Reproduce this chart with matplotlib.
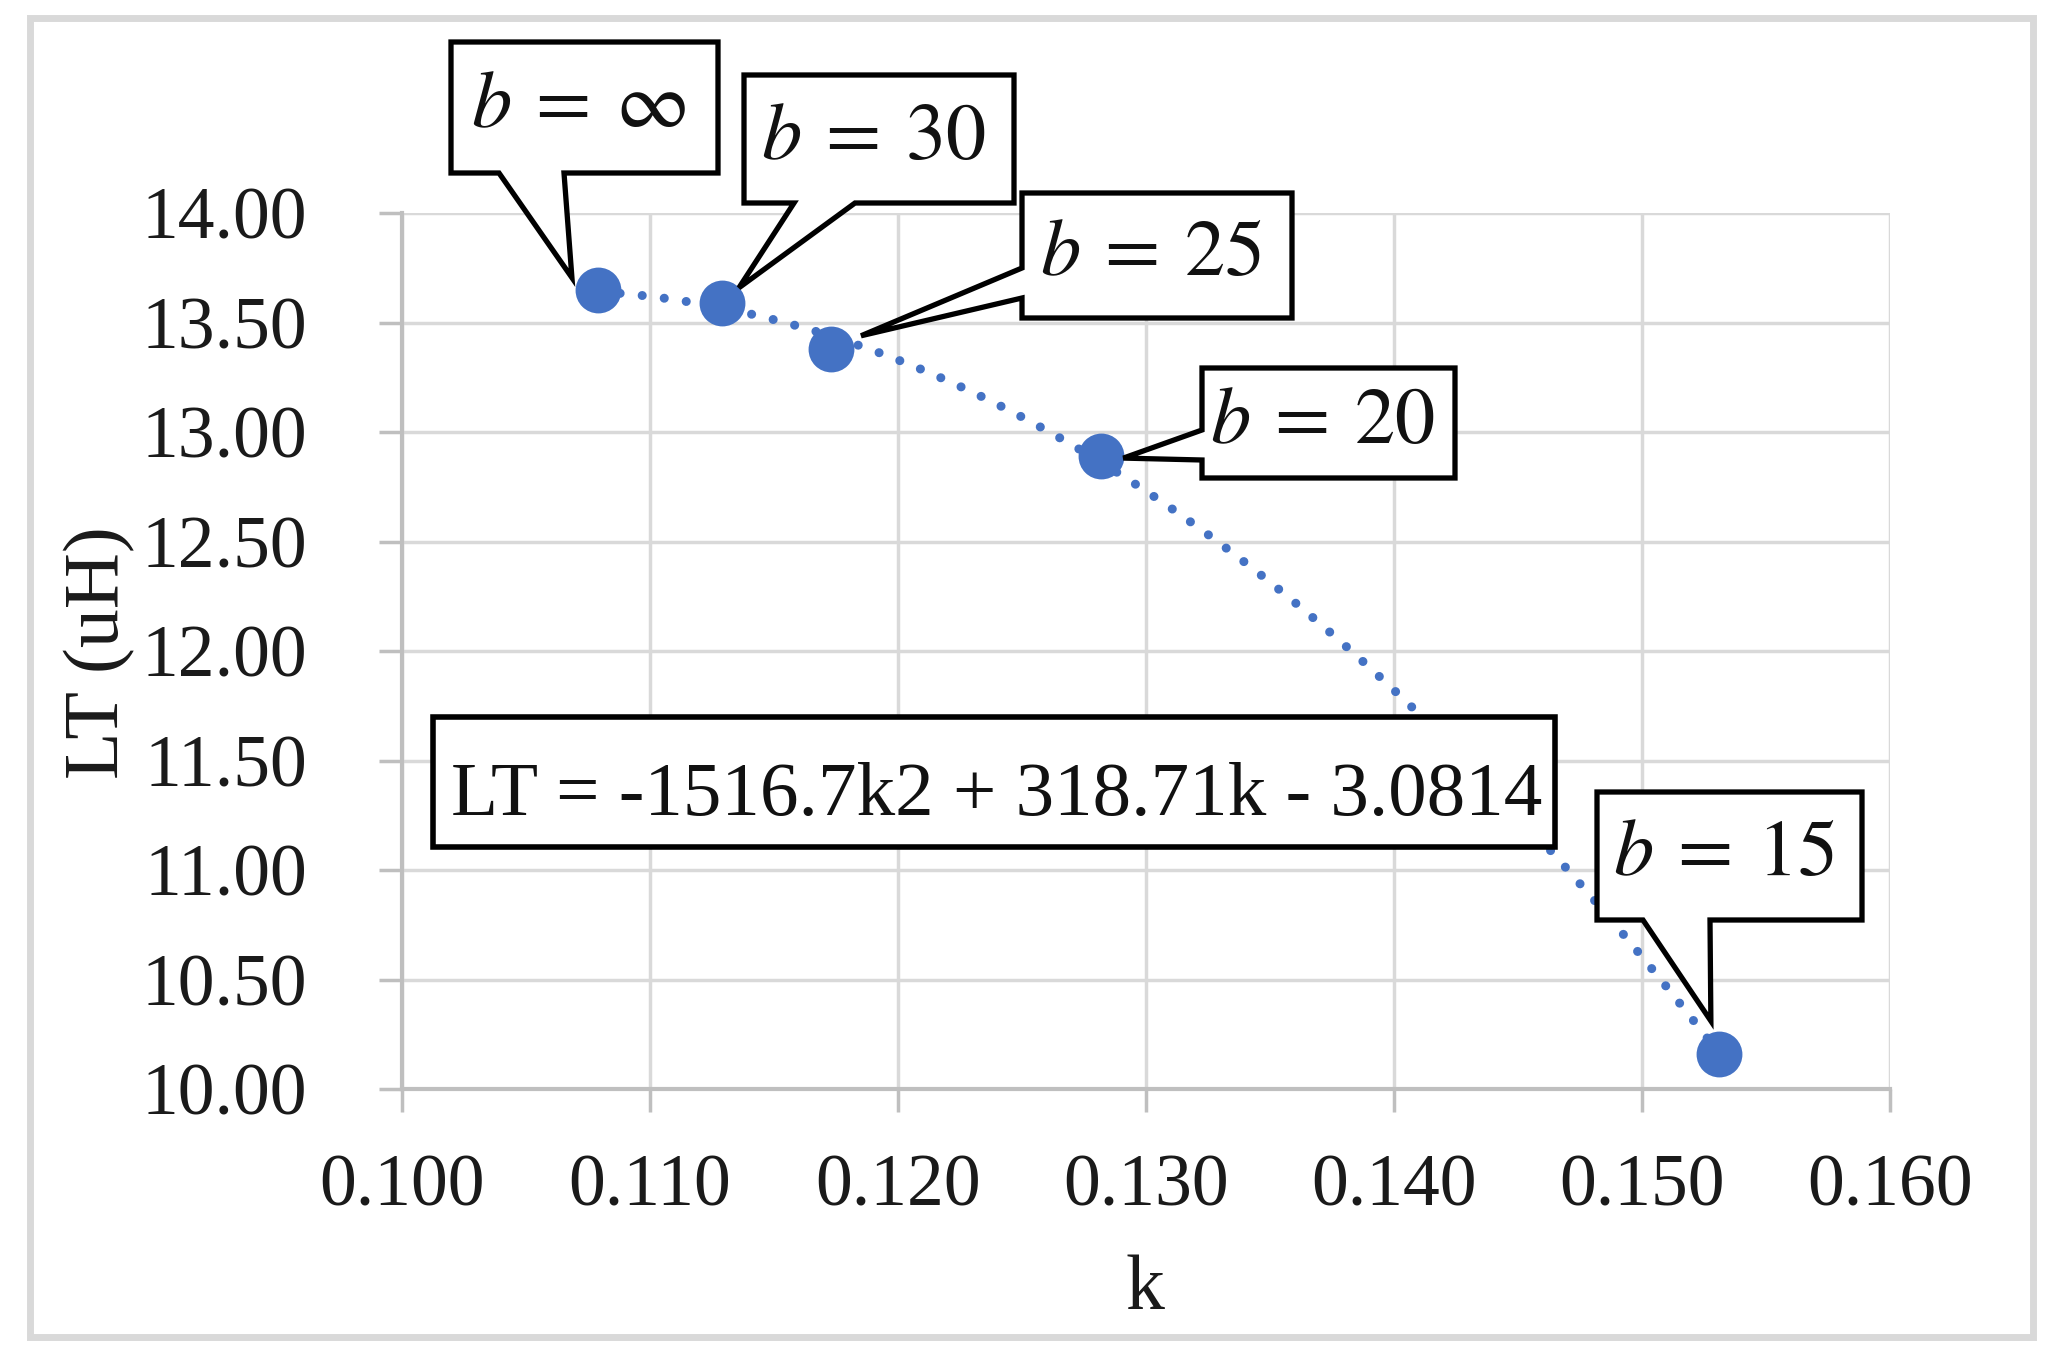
import numpy as np
import matplotlib
matplotlib.use("Agg")
import matplotlib.pyplot as plt
from matplotlib.patches import Polygon, Rectangle

# ---------------- data ----------------
b_labels = [r"$b\:=\:\infty$", r"$b\:=\:30$", r"$b\:=\:25$", r"$b\:=\:20$", r"$b\:=\:15$"]
k_values = [0.1079, 0.1129, 0.1173, 0.1282, 0.1531]
lt_values = [13.65, 13.59, 13.38, 12.89, 10.16]
x_ticks = [0.100, 0.110, 0.120, 0.130, 0.140, 0.150, 0.160]
y_ticks = [10.00, 10.50, 11.00, 11.50, 12.00, 12.50, 13.00, 13.50, 14.00]
equation_label = "LT = -1516.7k2 + 318.71k - 3.0814"
x_title = "k"
y_title = "LT (uH)"

# ---------------- style ----------------
plt.rcParams["font.family"] = ["Liberation Serif", "DejaVu Serif"]
plt.rcParams["mathtext.fontset"] = "stix"

W, H = 2057, 1372
fig = plt.figure(figsize=(W / 100, H / 100), dpi=100)
fig.patch.set_facecolor("white")

ax = fig.add_axes([402 / W, 1 - 1089 / H, 1488 / W, 876 / H])
ax.set_xlim(x_ticks[0], x_ticks[-1])
ax.set_ylim(y_ticks[0], y_ticks[-1])
ax.set_xticks(x_ticks)
ax.set_yticks(y_ticks)
ax.set_xticklabels([f"{v:.3f}" for v in x_ticks])
ax.set_yticklabels([f"{v:.2f}" for v in y_ticks])

BLUE = "#4472C4"
GRID = "#D9D9D9"
AXC = "#BFBFBF"

ax.grid(True, color=GRID, linewidth=2.5)
ax.set_axisbelow(True)
for s in ("top", "right"):
    ax.spines[s].set_visible(False)
for s in ("left", "bottom"):
    ax.spines[s].set_color(AXC)
    ax.spines[s].set_linewidth(3)
ax.tick_params(axis="both", direction="out", length=16.5, width=2.5, color=AXC,
               labelsize=53, labelcolor="#1a1a1a")
ax.tick_params(axis="y", pad=52)
ax.tick_params(axis="x", pad=30)

ax.set_xlabel(x_title, fontsize=56, va="baseline", color="#1a1a1a")
ax.xaxis.set_label_coords(0.4993, -0.2511)
ax.set_ylabel(y_title, fontsize=56, va="center", color="#1a1a1a")
ax.yaxis.set_label_coords(-0.2036, 0.4977)

# trendline (polynomial order 2 fitted to the points)
coeffs = np.polyfit(k_values, lt_values, 2)
kk = np.linspace(min(k_values), max(k_values), 400)
ax.plot(kk, np.polyval(coeffs, kk), color=BLUE, linewidth=6.5,
        linestyle=(0, (0.01, 2.45)), dash_capstyle="round", zorder=2)
ax.plot(k_values, lt_values, "o", color=BLUE, markersize=33,
        markeredgewidth=0, zorder=3, clip_on=False)

# ---------------- callouts (layout, image px, y down) ----------------
callouts = [
    dict(box=(451, 42, 718, 173), side="bottom", base=(499, 564), off=(-26, -12)),
    dict(box=(744, 75, 1014, 203), side="bottom", base=(794, 855), off=(17, -15)),
    dict(box=(1022, 193, 1292, 318), side="left", base=(268, 298), off=(30, -13)),
    dict(box=(1202, 368, 1455, 478), side="left", base=(430, 460), off=(22, 2)),
    dict(box=(1597, 792, 1862, 920), side="bottom", base=(1643, 1710), off=(-8, -33)),
]


def to_fig(pts):
    return [(x / W, 1 - y / H) for x, y in pts]


for i, c in enumerate(callouts):
    px, py = ax.transData.transform((k_values[i], lt_values[i]))
    cx, cy = px, H - py
    tip = (cx + c["off"][0], cy + c["off"][1])
    x0, y0, x1, y1 = c["box"]
    a, b = c["base"]
    if c["side"] == "bottom":
        verts = [(x0, y0), (x1, y0), (x1, y1), (b, y1), tip, (a, y1), (x0, y1)]
    else:
        verts = [(x0, y0), (x1, y0), (x1, y1), (x0, y1), (x0, b), tip, (x0, a)]
    poly = Polygon(to_fig(verts), closed=True, facecolor="white", edgecolor="black",
                   linewidth=3.8, joinstyle="miter", transform=fig.transFigure, zorder=5)
    fig.add_artist(poly)
    fig.text(((x0 + x1) / 2 - 6) / W, 1 - ((y0 + y1) / 2) / H, b_labels[i],
             fontsize=58, ha="center", va="center", color="#111111", zorder=6)

# equation box
ex0, ey0, ex1, ey1 = 433, 717, 1555, 847
fig.add_artist(Rectangle((ex0 / W, 1 - ey1 / H), (ex1 - ex0) / W, (ey1 - ey0) / H,
                         facecolor="white", edgecolor="black", linewidth=4,
                         transform=fig.transFigure, zorder=5))
fig.text(((ex0 + ex1) / 2 + 3) / W, 1 - 815 / H, equation_label, fontsize=55.5,
         ha="center", va="baseline", color="#111111", zorder=6)

# outer frame
fig.add_artist(Rectangle((30 / W, 1 - 1337 / H), (2033 - 30) / W, (1337 - 18) / H,
                         fill=False, edgecolor=GRID, linewidth=5,
                         transform=fig.transFigure, zorder=4))

fig.savefig("out.png", dpi=100)
